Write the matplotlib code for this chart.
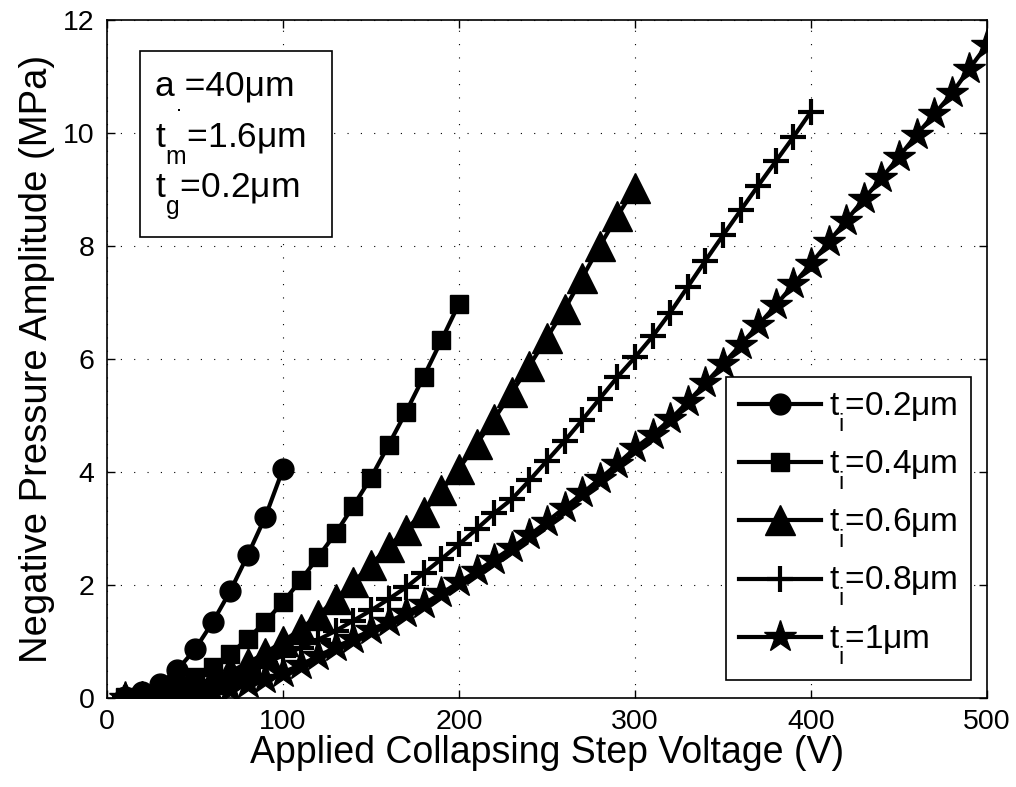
import matplotlib
matplotlib.use("Agg")
import matplotlib.pyplot as plt

plt.rcParams['font.family'] = ['Liberation Sans', 'DejaVu Sans']
plt.rcParams['mathtext.fontset'] = 'custom'
plt.rcParams['mathtext.rm'] = 'Liberation Sans'
plt.rcParams['mathtext.it'] = 'Liberation Sans:italic'
plt.rcParams['mathtext.bf'] = 'Liberation Sans:bold'
try:
    import matplotlib._mathtext as _mt
    _mt.FontConstantsBase.sub1 = 0.9
    _mt.FontConstantsBase.subdrop = 0.9
except Exception:
    pass

# ---------------- data ----------------
v_02 = [10, 20, 30, 40, 50, 60, 70, 80, 90, 100]
p_02 = [0.02, 0.10, 0.25, 0.50, 0.86, 1.34, 1.89, 2.53, 3.21, 4.05]

v_04 = list(range(10, 201, 10))
p_04 = [0.01, 0.04, 0.11, 0.22, 0.37, 0.55, 0.78, 1.05, 1.35, 1.70,
        2.08, 2.50, 2.92, 3.40, 3.90, 4.48, 5.07, 5.69, 6.33, 6.98]

v_06 = list(range(10, 301, 10))
p_06 = [0.01, 0.03, 0.07, 0.14, 0.23, 0.34, 0.47, 0.62, 0.80, 1.00,
        1.22, 1.47, 1.75, 2.05, 2.36, 2.68, 2.98, 3.30, 3.68, 4.06,
        4.50, 4.94, 5.41, 5.88, 6.38, 6.88, 7.44, 8.00, 8.53, 9.03]

v_08 = list(range(10, 401, 10))
p_08 = [0.00, 0.02, 0.06, 0.12, 0.20, 0.29, 0.39, 0.50, 0.62, 0.75,
        0.89, 1.03, 1.19, 1.37, 1.55, 1.75, 1.96, 2.21, 2.46, 2.72,
        2.99, 3.27, 3.52, 3.85, 4.20, 4.55, 4.92, 5.30, 5.68, 6.03,
        6.40, 6.82, 7.28, 7.74, 8.19, 8.63, 9.07, 9.50, 9.93, 10.38]

v_10 = list(range(10, 501, 10))
p_10 = [0.00, 0.00, 0.01, 0.03, 0.06, 0.10, 0.16, 0.24, 0.34, 0.45,
        0.59, 0.74, 0.90, 1.05, 1.20, 1.35, 1.50, 1.67, 1.85, 2.05,
        2.24, 2.45, 2.66, 2.88, 3.12, 3.37, 3.62, 3.88, 4.14, 4.42,
        4.66, 4.93, 5.24, 5.57, 5.91, 6.25, 6.60, 6.95, 7.32, 7.69,
        8.07, 8.45, 8.83, 9.20, 9.58, 9.97, 10.33, 10.70, 11.14, 11.56]

labels = [r'$\mathregular{t_i}$=0.2μm', r'$\mathregular{t_i}$=0.4μm',
          r'$\mathregular{t_i}$=0.6μm', r'$\mathregular{t_i}$=0.8μm',
          r'$\mathregular{t_i}$=1μm']
xticks = [0, 100, 200, 300, 400, 500]
yticks = [0, 2, 4, 6, 8, 10, 12]

# ---------------- figure ----------------
fig = plt.figure(figsize=(10.16, 7.87), dpi=100)
ax = fig.add_axes([0.1053, 0.1131, 0.8662, 0.8615])

lw = 3
ax.plot(v_02, p_02, '-', color='k', lw=lw, marker='o', ms=15, mec='k', mew=1, label=labels[0], zorder=3)
ax.plot(v_04, p_04, '-', color='k', lw=lw, marker='s', ms=13.5, mec='k', mew=1, label=labels[1], zorder=3)
ax.plot(v_06, p_06, '-', color='k', lw=lw, marker='^', ms=21, mec='k', mew=1, label=labels[2], zorder=3)
ax.plot(v_08, p_08, '-', color='k', lw=lw, marker='+', ms=19, mec='k', mew=3, label=labels[3], zorder=3)
ax.plot(v_10, p_10, '-', color='k', lw=lw, marker='*', ms=24, mec='k', mew=1, label=labels[4], zorder=3)

ax.set_xlim(0, 500)
ax.set_ylim(0, 12)
ax.set_xticks(xticks)
ax.set_yticks(yticks)
ax.tick_params(axis='both', direction='in', length=6, width=1, labelsize=20.5,
               top=True, right=True, colors='k')
ax.tick_params(axis='x', pad=8)
ax.tick_params(axis='y', pad=9)
for s in ax.spines.values():
    s.set_linewidth(1.2)
    s.set_color('k')
ax.grid(True, color='k', linestyle=(0, (1, 11)), linewidth=0.8)
ax.set_axisbelow(True)

ax.set_xlabel('Applied Collapsing Step Voltage (V)', fontsize=27, labelpad=0)
ax.set_ylabel('Negative Pressure Amplitude (MPa)', fontsize=27.5, labelpad=6)

leg = ax.legend(loc='lower right', bbox_to_anchor=(0.982, 0.0265), borderaxespad=0,
                fontsize=24, numpoints=1, handlelength=2.45, handletextpad=0.25,
                labelspacing=0.45, borderpad=0.40, fancybox=False, framealpha=1,
                edgecolor='k')
leg.get_frame().set_linewidth(1.2)
leg.set_zorder(6)

# annotation box
ax.add_patch(plt.Rectangle((0.0375, 0.6804), 0.2178, 0.2743, transform=ax.transAxes,
                           facecolor='white', edgecolor='k', linewidth=1.2, zorder=4))
ax.text(0.0545, 0.889, 'a =40μm', transform=ax.transAxes, fontsize=25.5,
        va='baseline', ha='left', zorder=5)
ax.plot([0.0818], [0.867], transform=ax.transAxes, marker='s', ms=1.8,
        color='k', mew=0, zorder=5, clip_on=False)
ax.text(0.0545, 0.811, r'$\mathregular{t_m}$=1.6μm', transform=ax.transAxes,
        fontsize=25.5, va='baseline', ha='left', zorder=5)
ax.text(0.0545, 0.737, r'$\mathregular{t_g}$=0.2μm', transform=ax.transAxes,
        fontsize=25.5, va='baseline', ha='left', zorder=5)

fig.savefig('out.png', dpi=100, facecolor='white')
